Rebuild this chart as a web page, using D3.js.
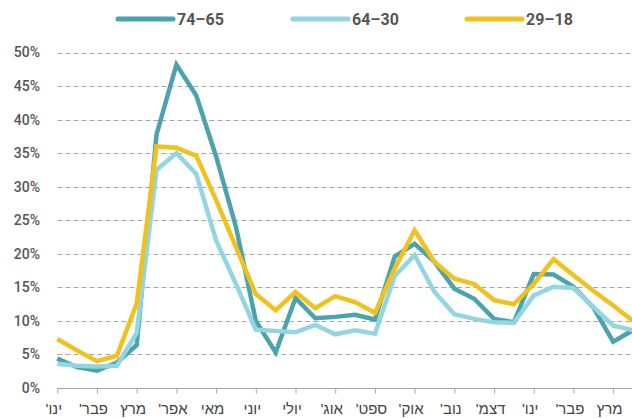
<!DOCTYPE html>
<html>
<head>
<meta charset="utf-8">
<script src="https://cdn.jsdelivr.net/npm/d3@7"></script>
<style>
  html, body { margin: 0; padding: 0; background: #fff; }
  svg { display: block; }
</style>
</head>
<body>
<svg id="chart"></svg>
<script>
// month labels (one per month, two readings per month)
const months = ["ינו'", "פבר'", "מרץ", "אפר'", "מאי", "יוני", "יולי", "אוג'", "ספט'", "אוק'", "נוב'", "דצמ'", "ינו'", "פבר'", "מרץ"];
const yTicks = [0, 5, 10, 15, 20, 25, 30, 35, 40, 45, 50];

const series65_74 = [4.4, 3.1, 2.6, 3.8, 6.4, 37.8, 48.2, 43.6, 34.5, 24, 10, 5.3, 13.4, 10.4, 10.6, 10.9, 10.2, 19.6, 21.5, 18.8, 14.8, 13.3, 10.3, 9.8, 17.0, 16.9, 15.1, 12.0, 6.9, 8.6];
const series30_64 = [3.6, 3.3, 3.2, 3.3, 8.2, 32.5, 35.0, 31.9, 22, 15.5, 8.7, 8.5, 8.3, 9.4, 8.0, 8.6, 8.1, 16.7, 19.8, 14.3, 11.0, 10.3, 9.8, 9.7, 13.8, 15.1, 14.9, 12.1, 9.3, 8.6];
const series18_29 = [7.3, 5.6, 4.0, 4.8, 12.6, 36.0, 35.8, 34.6, 28.0, 21.0, 14.0, 11.6, 14.3, 11.9, 13.7, 12.8, 11.2, 17.8, 23.5, 18.8, 16.3, 15.5, 13.1, 12.5, 15.5, 19.2, 16.8, 14.5, 12.3, 10.0];

const seriesNames = ["74–65", "64–30", "29–18"];
const seriesColors = ["#4ba3ae", "#93d6e2", "#f0c21d"];
const seriesData = [series65_74, series30_64, series18_29];

const width = 632, height = 418;
const svg = d3.select("#chart").attr("width", width).attr("height", height);

const x = d3.scaleLinear()
    .domain([0, series65_74.length - 1])
    .range([57.3, 633]);

const y = d3.scaleLinear()
    .domain([0, 50])
    .range([388, 52.5]);

// grid lines
svg.append("g")
    .selectAll("line")
    .data(yTicks.filter(d => d > 0))
    .join("line")
    .attr("x1", x(0))
    .attr("x2", width)
    .attr("y1", d => Math.round(y(d)) + 0.5)
    .attr("y2", d => Math.round(y(d)) + 0.5)
    .attr("stroke", "#a6a6a6")
    .attr("stroke-width", 1.2)
    .attr("stroke-dasharray", "5,3");

// y labels
svg.append("g")
    .selectAll("text")
    .data(yTicks)
    .join("text")
    .attr("x", 40)
    .attr("y", d => y(d))
    .attr("dy", "0.35em")
    .attr("text-anchor", "end")
    .attr("font-family", "Roboto, 'Liberation Sans', sans-serif")
    .attr("font-weight", 500)
    .attr("font-size", 14)
    .attr("fill", "#555")
    .text(d => d + "%");

// x axis
const monthIdx = months.map((m, i) => i * 2);
const xAxis = svg.append("g")
    .attr("transform", `translate(0, ${Math.round(y(0)) + 0.5})`)
    .call(d3.axisBottom(x).tickValues(monthIdx).tickSize(5).tickSizeOuter(0).tickFormat((d, i) => months[i]));

xAxis.select(".domain").attr("stroke", "#a6a6a6").attr("d", `M${x(0)},0H${width}`);
xAxis.selectAll(".tick line").attr("stroke", "#a6a6a6");
xAxis.selectAll(".tick text")
    .attr("direction", "rtl")
    .attr("font-family", "'Liberation Sans', Arial, 'DejaVu Sans', sans-serif")
    .attr("font-size", 15)
    .attr("fill", "#444")
    .attr("dx", -4)
    .attr("y", 15)
    .attr("dy", "0.71em");

// lines
const line = d3.line()
    .x((d, i) => x(i))
    .y(d => y(d));

svg.append("g")
    .selectAll("path")
    .data(seriesData)
    .join("path")
    .attr("fill", "none")
    .attr("stroke", (d, i) => seriesColors[i])
    .attr("stroke-width", 4.5)
    .attr("stroke-linejoin", "miter")
    .attr("d", line);

// legend
const legendX = [118, 293, 467];
const legend = svg.append("g")
    .selectAll("g")
    .data(seriesNames)
    .join("g")
    .attr("transform", (d, i) => `translate(${legendX[i]}, 19)`);

legend.append("line")
    .attr("x1", 0)
    .attr("x2", 55)
    .attr("stroke", (d, i) => seriesColors[i])
    .attr("stroke-width", 5)
    .attr("stroke-linecap", "round");

legend.append("text")
    .attr("x", 59)
    .attr("dy", "0.36em")
    .attr("font-family", "Roboto, 'Liberation Sans', sans-serif")
    .attr("font-weight", 700)
    .attr("font-size", 16)
    .attr("fill", "#555")
    .text(d => d);
</script>
</body>
</html>
